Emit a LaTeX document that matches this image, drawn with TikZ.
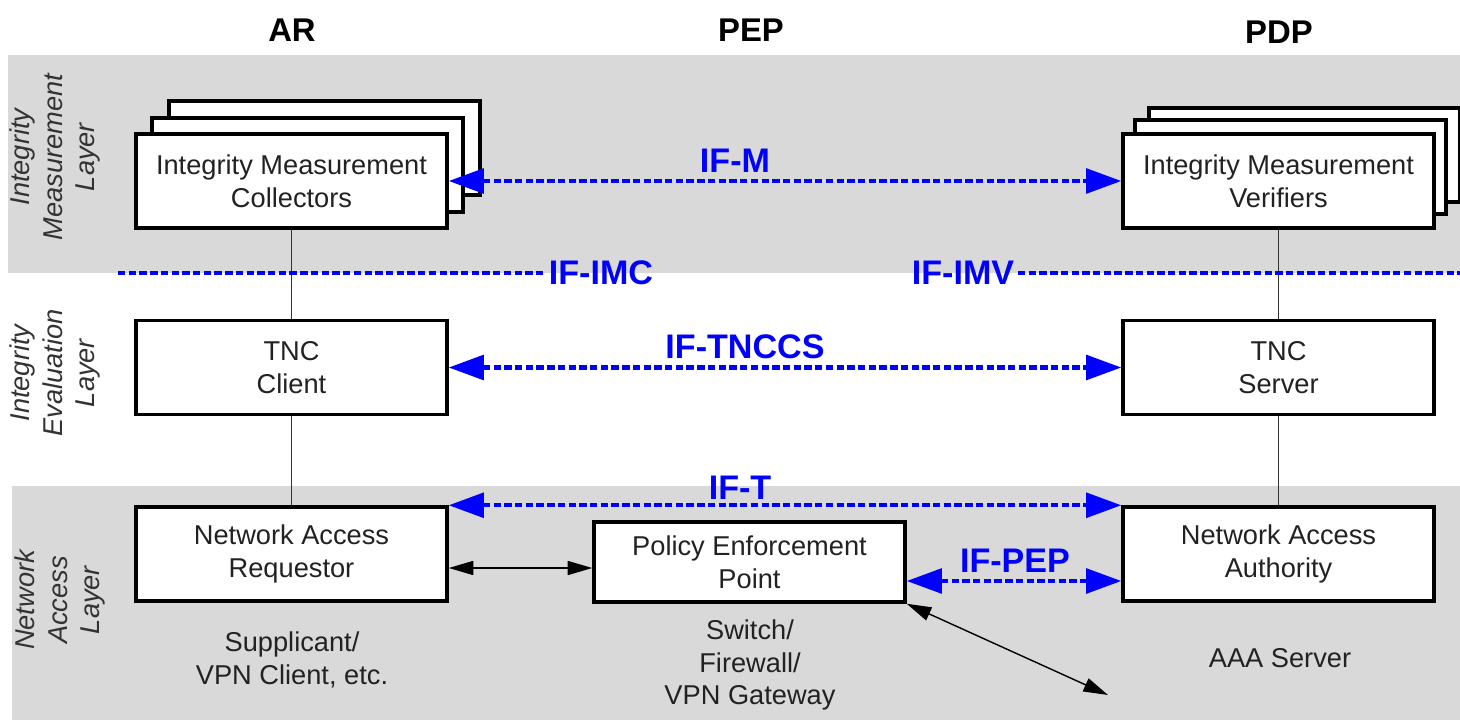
\documentclass[tikz,border=0pt]{standalone}
\usepackage{fontspec}
\setmainfont{Liberation Sans}
\usetikzlibrary{arrows.meta,calc}
\definecolor{bandgray}{RGB}{217,217,217}
\definecolor{ifblue}{RGB}{0,0,255}
\definecolor{txt}{RGB}{34,34,34}
\definecolor{sidetxt}{RGB}{51,51,51}
\begin{document}
\begin{tikzpicture}[x=0.02cm,y=-0.02cm,
  box/.style={draw=black,line width=2pt,fill=white,minimum width=6.22cm,minimum height=1.88cm,
    inner sep=0pt,align=center,font=\fontsize{15.5}{18.7}\selectfont,text=txt},
  pepbox/.style={box,minimum width=6.22cm,minimum height=1.6cm},
  header/.style={font=\fontsize{18.7}{22}\selectfont\bfseries,text=black},
  iflabel/.style={font=\fontsize{19.4}{23}\selectfont\bfseries,text=ifblue,inner sep=2pt},
  sidelabel/.style={rotate=90,align=center,font=\fontsize{15.5}{18.7}\selectfont\itshape,text=sidetxt},
  plaintext/.style={align=center,font=\fontsize{15.5}{18.7}\selectfont,text=txt},
  thinline/.style={draw=black!80,line width=0.6pt},
  bluedash/.style={draw=ifblue,line width=2.3pt,dash pattern=on 4.2pt off 1.9pt},
  bluearrow/.style={bluedash,{Triangle[length=20pt,width=14pt]}-{Triangle[length=20pt,width=14pt]}},
  blackarrow/.style={draw=black,line width=0.8pt,{Triangle[length=14pt,width=8pt]}-{Triangle[length=14pt,width=8pt]}}
]
\useasboundingbox (0,0) rectangle (1460,720);
\fill[white] (0,0) rectangle (1460,720);
% bands
\fill[bandgray] (8,55) rectangle (1460,273);
\fill[bandgray] (12,486) rectangle (1460,720);

% headers
\node[header] (hAR) at (292,30) {AR};
\node[header] (hPEP) at (751,30) {PEP};
\node[header] (hPDP) at (1279,32) {PDP};

% side labels
\node[sidelabel] (sl1) at (55,157) {Integrity\\Measurement\\Layer};
\node[sidelabel] (sl2) at (55,373) {Integrity\\Evaluation\\Layer};
\node[sidelabel] (sl3) at (60,600) {Network\\Access\\Layer};

% IMC stack
\node[box] (imc3) at (324.5,148) {};
\node[box] (imc2) at (307.5,165) {};
\node[box] (imc) at (291.5,181) {Integrity Measurement\\Collectors};
% IMV stack
\node[box] (imv3) at (1304.5,155) {};
\node[box] (imv2) at (1290.5,167) {};
\node[box] (imv) at (1278.5,181) {Integrity Measurement\\Verifiers};

% TNC
\node[box] (tncc) at (291.5,367.5) {TNC\\Client};
\node[box] (tncs) at (1278.5,367.5) {TNC\\Server};

% Network access
\node[box] (nar) at (291.5,554) {Network Access\\Requestor};
\node[box] (naa) at (1278.5,554) {Network Access\\Authority};
\node[pepbox] (pep) at (749.5,562) {Policy Enforcement\\Point};

% vertical thin lines
\draw[thinline] (imc.south) -- (tncc.north);
\draw[thinline] (tncc.south) -- (nar.north);
\draw[thinline] (imv.south) -- (tncs.north);
\draw[thinline] (tncs.south) -- (naa.north);

% IF-IMC / IF-IMV dotted line
\node[iflabel] (ifimc) at (601,273) {IF-IMC};
\node[iflabel] (ifimv) at (963,273) {IF-IMV};
\coordinate (imcL) at (118,273);
\coordinate (imvR) at (1460,273);
\draw[bluedash] (imcL) -- (ifimc.west);
\draw[bluedash] (ifimv.east) -- (imvR);

% IF-M
\draw[bluearrow] (imc.east) -- (imv.west);
\node[iflabel] (ifm) at (735,161) {IF-M};
% IF-TNCCS
\draw[bluearrow] (tncc.east) -- (tncs.west);
\node[iflabel] (iftnccs) at (745,347) {IF-TNCCS};
% IF-T
\draw[bluearrow] (nar.north east) -- (naa.north west);
\node[iflabel] (ift) at (740,488) {IF-T};
% IF-PEP
\draw[bluearrow] ([yshift=-0.38cm]pep.east) -- ([yshift=-0.38cm]pep.east -| naa.west);
\node[iflabel] (ifpep) at (1015,561) {IF-PEP};

% NAR <-> PEP
\draw[blackarrow] ([yshift=-0.12cm]nar.east |- pep.west) -- ([yshift=-0.12cm]pep.west);
% diagonal
\coordinate (outside) at (1108,695);
\draw[blackarrow] (pep.south east) -- (outside);

% bottom texts
\node[plaintext] (supp) at (292,660) {Supplicant/\\VPN Client, etc.};
\node[plaintext] (sw) at (750,665) {Switch/\\Firewall/\\VPN Gateway};
\node[plaintext] (aaa) at (1280,658) {AAA Server};
\end{tikzpicture}
\end{document}
